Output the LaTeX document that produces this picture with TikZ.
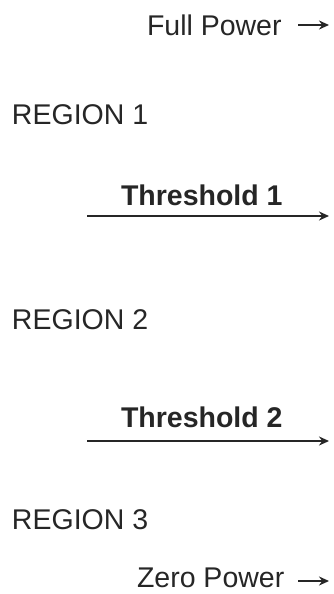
\documentclass[tikz,border=0pt]{standalone}
\usepackage{fontspec}
\setmainfont{Liberation Sans}
\usetikzlibrary{arrows.meta}
\begin{document}
\begin{tikzpicture}[x=1pt,y=-1pt,
  lbl/.style={anchor=base west,inner sep=0pt,outer sep=0pt,text=black!85,font=\fontsize{28.5}{34}\selectfont},
  thr/.style={lbl,font=\fontsize{28.5}{34}\selectfont\bfseries},
  arr/.style={draw=black!85,line width=2.2pt,-{Stealth[length=10pt,width=9pt]}}]
\useasboundingbox (0,0) rectangle (333,594);
\node[lbl] (full) at (147,36) {Full Power};
\coordinate (fa) at (298,25);
\coordinate (fb) at (329,25);
\draw[arr] (fa) -- (fb);
\node[lbl] (r1) at (12,124) {REGION 1};
\node[thr] (t1) at (121,205) {Threshold 1};
\coordinate (t1a) at (87,216);
\coordinate (t1b) at (329,216);
\draw[arr] (t1a) -- (t1b);
\node[lbl] (r2) at (12,329) {REGION 2};
\node[thr] (t2) at (121,427) {Threshold 2};
\coordinate (t2a) at (87,441);
\coordinate (t2b) at (329,441);
\draw[arr] (t2a) -- (t2b);
\node[lbl] (r3) at (12,529) {REGION 3};
\node[lbl] (zero) at (137,587) {Zero Power};
\coordinate (za) at (298,581);
\coordinate (zb) at (329,581);
\draw[arr] (za) -- (zb);
\end{tikzpicture}
\end{document}
